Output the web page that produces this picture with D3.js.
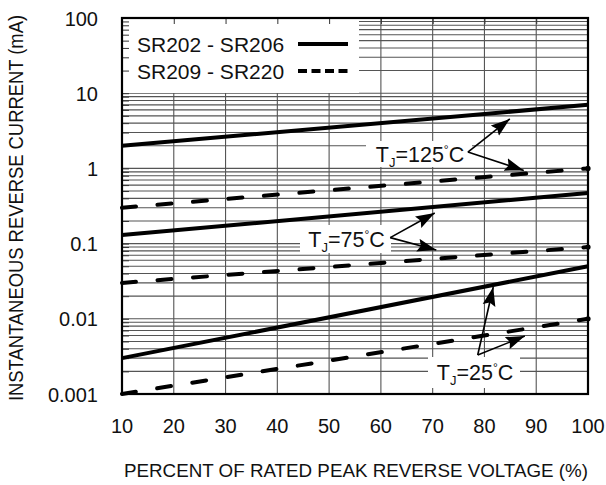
<!DOCTYPE html>
<html>
<head>
<meta charset="utf-8">
<script src="https://cdn.jsdelivr.net/npm/d3@7"></script>
<style>
  body { margin: 0; background: #fff; }
  text { font-family: "Liberation Sans", Arial, sans-serif; fill: #111; }
</style>
</head>
<body>
<svg id="chart"></svg>
<script>
// percent of rated peak reverse voltage (line end points)
const voltage = [10, 100];
// SR202 - SR206 (solid), mA
const solid125 = [2, 7];
const solid75 = [0.13, 0.47];
const solid25 = [0.003, 0.05];
// SR209 - SR220 (dashed), mA
const dashed125 = [0.3, 1.0];
const dashed75 = [0.03, 0.09];
const dashed25 = [0.001, 0.01];

const xTicks = [10, 20, 30, 40, 50, 60, 70, 80, 90, 100];
const yTicks = [0.001, 0.01, 0.1, 1, 10, 100];
const yTickLabels = ['0.001', '0.01', '0.1', '1', '10', '100'];
const legendLabels = ['SR202 - SR206', 'SR209 - SR220'];

// temperature callouts: label, arrow base, two arrow tips (data coords)
const callouts = [
    { temp: '125', base: [76.8, 1.65], tips: [[84.9, 4.54], [87.6, 0.94]] },
    { temp: '75', base: [61.8, 0.12], tips: [[70.4, 0.255], [70.7, 0.082]] },
    { temp: '25', base: [78.7, 0.0033], tips: [[81.7, 0.0265], [87.8, 0.0059]] }
];

const W = 606, H = 485;
const pLeft = 122, pRight = 588, pTop = 18, pBottom = 394;

const svg = d3.select('#chart')
    .attr('width', W)
    .attr('height', H);

const x = d3.scaleLinear().domain([10, 100]).range([pLeft, pRight]);
const y = d3.scaleLog().domain([0.001, 100]).range([pBottom, pTop]);

// minor log values
const minor = [];
yTicks.slice(0, -1).forEach(d => {
    for (let k = 1; k <= 9; k++) minor.push(d * k);
});
minor.push(100);

// grid
const grid = svg.append('g');
grid.selectAll('line.h')
    .data(minor)
    .enter()
    .append('line')
    .attr('x1', pLeft).attr('x2', pRight)
    .attr('y1', d => y(d)).attr('y2', d => y(d))
    .attr('stroke', '#555')
    .attr('stroke-width', 1.1);
grid.selectAll('line.v')
    .data(xTicks.slice(1, -1))
    .enter()
    .append('line')
    .attr('x1', d => x(d)).attr('x2', d => x(d))
    .attr('y1', pTop).attr('y2', pBottom)
    .attr('stroke', '#555')
    .attr('stroke-width', 1.1);

// legend box hides grid
svg.append('rect')
    .attr('x', pLeft + 1).attr('y', pTop + 1)
    .attr('width', 358 - pLeft).attr('height', 92 - pTop)
    .attr('fill', '#fff');

// inner ticks on left and top axis
svg.append('g')
    .attr('transform', `translate(${pLeft},0)`)
    .call(d3.axisRight(y).tickValues(minor).tickSize(7).tickFormat(''))
    .call(g => g.select('.domain').remove())
    .selectAll('line').attr('stroke', '#333');
svg.append('g')
    .attr('transform', `translate(0,${pTop})`)
    .call(d3.axisBottom(x).tickValues(xTicks).tickSize(6).tickFormat(''))
    .call(g => g.select('.domain').remove())
    .selectAll('line').attr('stroke', '#333');

// callout label backgrounds
const boxes = [[366, 141, 106, 26], [300, 225, 91, 28], [428, 357, 92, 31]];

// lines
const line = d3.line()
    .x((d, i) => x(voltage[i]))
    .y(d => y(d));

[solid125, solid75, solid25].forEach(s => {
    svg.append('path')
        .datum(s)
        .attr('fill', 'none')
        .attr('stroke', '#000')
        .attr('stroke-width', 4)
        .attr('d', line);
});
[dashed125, dashed75, dashed25].forEach(s => {
    svg.append('path')
        .datum(s)
        .attr('fill', 'none')
        .attr('stroke', '#000')
        .attr('stroke-width', 4)
        .attr('stroke-linecap', 'round')
        .attr('stroke-dasharray', '14,21.6')
        .attr('d', line);
    svg.append('circle')
        .attr('cx', x(voltage[1]))
        .attr('cy', y(s[1]))
        .attr('r', 2.6)
        .attr('fill', '#000');
});

// frame
svg.append('rect')
    .attr('x', pLeft).attr('y', pTop)
    .attr('width', pRight - pLeft).attr('height', pBottom - pTop)
    .attr('fill', 'none')
    .attr('stroke', '#000')
    .attr('stroke-width', 2.2);

// arrow marker
svg.append('defs').append('marker')
    .attr('id', 'arrow')
    .attr('markerUnits', 'userSpaceOnUse')
    .attr('markerWidth', 20).attr('markerHeight', 14)
    .attr('refX', 19).attr('refY', 7)
    .attr('orient', 'auto')
    .append('path')
    .attr('d', 'M0,0.5 L19,7 L0,13.5 L3,7 Z')
    .attr('fill', '#000');

callouts.forEach((c, i) => {
    const b = boxes[i];
    svg.append('rect')
        .attr('x', b[0]).attr('y', b[1])
        .attr('width', b[2]).attr('height', b[3])
        .attr('fill', '#fff');
    c.tips.forEach(t => {
        svg.append('line')
            .attr('x1', x(c.base[0])).attr('y1', y(c.base[1]))
            .attr('x2', x(t[0])).attr('y2', y(t[1]))
            .attr('stroke', '#000')
            .attr('stroke-width', 1.6)
            .attr('marker-end', 'url(#arrow)');
    });
    const t = svg.append('text')
        .attr('x', b[0] + b[2] / 2 + 1)
        .attr('y', b[1] + b[3] / 2 + 7.5)
        .attr('text-anchor', 'middle')
        .style('font-size', '21.5px');
    t.append('tspan').text('T');
    t.append('tspan').attr('dy', 5).style('font-size', '13px').text('J');
    t.append('tspan').attr('dy', -5).text('=' + c.temp);
    t.append('tspan').attr('dy', -8).style('font-size', '12px').text('°');
    t.append('tspan').attr('dy', 8).text('C');
});

// legend
legendLabels.forEach((l, i) => {
    svg.append('text')
        .attr('x', 137)
        .attr('y', 51.5 + i * 27)
        .style('font-size', '21px')
        .text(l);
    svg.append('line')
        .attr('x1', 298).attr('x2', 348)
        .attr('y1', 44 + i * 27).attr('y2', 44 + i * 27)
        .attr('stroke', '#000')
        .attr('stroke-width', 4)
        .attr('stroke-dasharray', i ? '9,4.5,9,4.5,9,4.5,9,6,2' : null);
});

// tick labels
svg.append('g')
    .selectAll('text')
    .data(yTicks)
    .enter()
    .append('text')
    .attr('x', 98)
    .attr('y', d => y(d) + 7.5)
    .attr('text-anchor', 'end')
    .style('font-size', '20px')
    .text((d, i) => yTickLabels[i]);

svg.append('g')
    .selectAll('text')
    .data(xTicks)
    .enter()
    .append('text')
    .attr('x', d => x(d))
    .attr('y', 433)
    .attr('text-anchor', 'middle')
    .style('font-size', '20px')
    .text(d => d);

// axis titles
svg.append('text')
    .attr('x', (pLeft + pRight) / 2 + 1)
    .attr('y', 477)
    .attr('text-anchor', 'middle')
    .style('font-size', '18.8px')
    .text('PERCENT OF RATED PEAK REVERSE VOLTAGE (%)');

svg.append('text')
    .attr('transform', 'translate(23,208) rotate(-90) scale(1,1.1)')
    .attr('text-anchor', 'middle')
    .style('font-size', '18.4px')
    .text('INSTANTANEOUS REVERSE CURRENT (mA)');
</script>
</body>
</html>
